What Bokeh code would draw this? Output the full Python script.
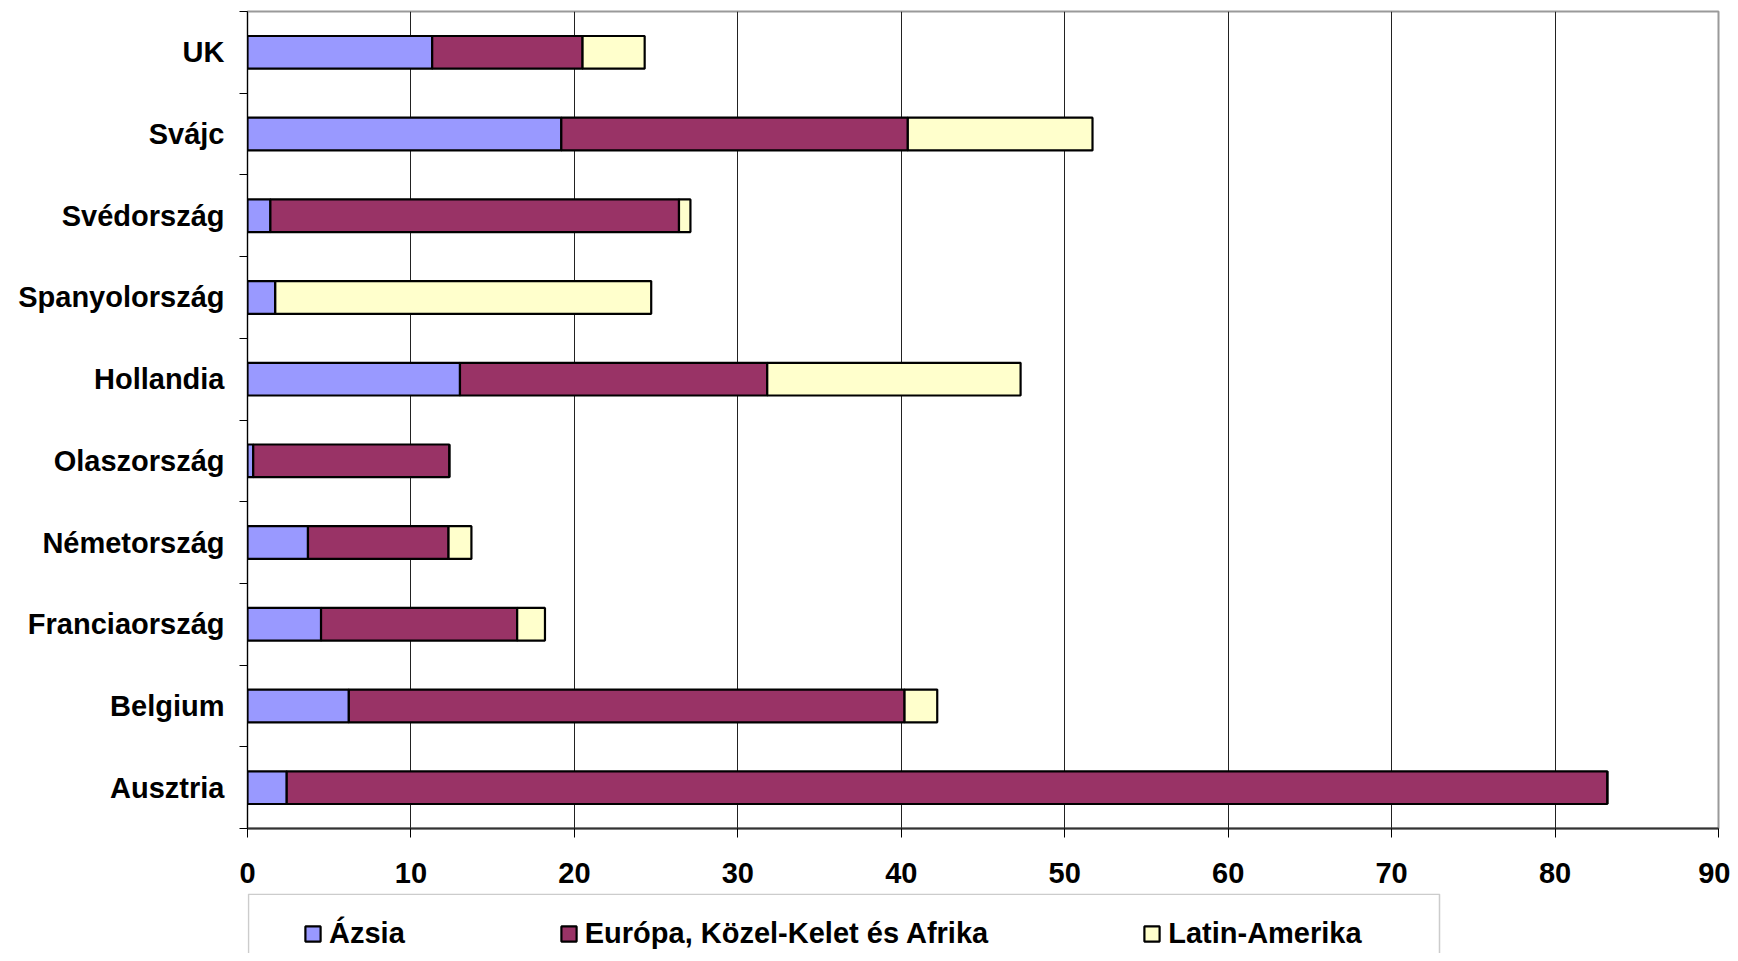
from bokeh.plotting import figure
from bokeh.layouts import column
from bokeh.models import (ColumnDataSource, Range1d, FixedTicker, Legend, LegendItem,
                          BoxAnnotation)
from bokeh.embed import file_html
from bokeh.resources import INLINE

countries = ["Ausztria", "Belgium", "Franciaország", "Németország", "Olaszország",
             "Hollandia", "Spanyolország", "Svédország", "Svájc", "UK"]
asia = [2.4, 6.2, 4.5, 3.7, 0.35, 13.0, 1.7, 1.4, 19.2, 11.3]
europe = [80.8, 34.0, 12.0, 8.6, 12.0, 18.8, 0.0, 25.0, 21.2, 9.2]
latin = [0.0, 2.0, 1.7, 1.4, 0.0, 15.5, 23.0, 0.7, 11.3, 3.8]
series_names = ["Ázsia", "Európa, Közel-Kelet és Afrika", "Latin-Amerika"]
colors = ["#9999FF", "#993366", "#FFFFCC"]
x_ticks = [0, 10, 20, 30, 40, 50, 60, 70, 80, 90]

ypos = list(range(len(countries)))
source = ColumnDataSource(dict(y=ypos, asia=asia, europe=europe, latin=latin))
stackers = ["asia", "europe", "latin"]

FONT = "Liberation Sans"
FSIZE = "29px"

p = figure(width=1730, height=893, output_backend="svg", toolbar_location=None,
           x_range=Range1d(0, 90), y_range=Range1d(-0.5, len(countries) - 0.5),
           min_border_left=247, min_border_right=12, min_border_top=11, min_border_bottom=65)
p.frame_width = 1471
p.frame_height = 817

p.hbar_stack(stackers, y="y", height=0.4, source=source,
             fill_color=colors, line_color="black", line_width=2.2)

# x axis
p.xaxis.ticker = FixedTicker(ticks=x_ticks)
p.xaxis.major_label_text_font = FONT
p.xaxis.major_label_text_font_style = "bold"
p.xaxis.major_label_text_font_size = FSIZE
p.xaxis.major_label_text_color = "black"
p.xaxis.major_label_standoff = 25
p.xaxis.major_tick_out = 9
p.xaxis.major_tick_in = 0
p.xaxis.minor_tick_line_color = None
p.xaxis.axis_line_color = "#333333"
p.xaxis.axis_line_width = 2
p.xaxis.major_tick_line_color = "black"

# y axis
bounds = [i - 0.5 for i in range(len(countries) + 1)]
p.yaxis.ticker = FixedTicker(ticks=ypos, minor_ticks=bounds)
p.yaxis.major_label_overrides = {i: c for i, c in enumerate(countries)}
p.yaxis.major_label_text_font = FONT
p.yaxis.major_label_text_font_style = "bold"
p.yaxis.major_label_text_font_size = FSIZE
p.yaxis.major_label_text_color = "black"
p.yaxis.major_label_standoff = 15
p.yaxis.major_tick_out = 0
p.yaxis.major_tick_in = 0
p.yaxis.minor_tick_out = 8
p.yaxis.minor_tick_in = 0
p.yaxis.minor_tick_line_color = "black"
p.yaxis.axis_line_color = "black"

p.ygrid.visible = False
p.xgrid.grid_line_color = "#222222"
p.xgrid.grid_line_width = 1
p.outline_line_color = "#9a9a9a"
p.outline_line_width = 2

# legend strip below the chart (its frame is aligned with the chart frame: x 247..1718)
LH = 60
pl = figure(width=1730, height=LH, output_backend="svg", toolbar_location=None,
            x_range=Range1d(247, 1718), y_range=Range1d(LH, 0),
            min_border_left=0, min_border_right=0, min_border_top=0, min_border_bottom=0)
pl.axis.visible = False
pl.grid.visible = False
pl.outline_line_color = None
leg_renderers = pl.hbar_stack(stackers, y="y", height=0.4, source=source,
                              fill_color=colors, line_color="black", line_width=2.2)
for r in leg_renderers:
    r.visible = False
pl.add_layout(BoxAnnotation(left=248, right=1439, top=0.75, bottom=LH + 50,
                            fill_alpha=0, line_color="#555555", line_width=1.5))
items = [LegendItem(label=n, renderers=[r]) for n, r in zip(series_names, leg_renderers)]
lg = Legend(items=items, orientation="horizontal", location=(31, -22), margin=0,
            spacing=154, padding=25, glyph_width=19, glyph_height=19, label_standoff=7,
            label_text_font=FONT, label_text_font_style="bold", label_text_font_size=FSIZE,
            label_text_color="black", border_line_alpha=0, background_fill_alpha=0)
pl.add_layout(lg)

layout = column(p, pl)
open("out.html", "w").write(file_html(layout, INLINE))
